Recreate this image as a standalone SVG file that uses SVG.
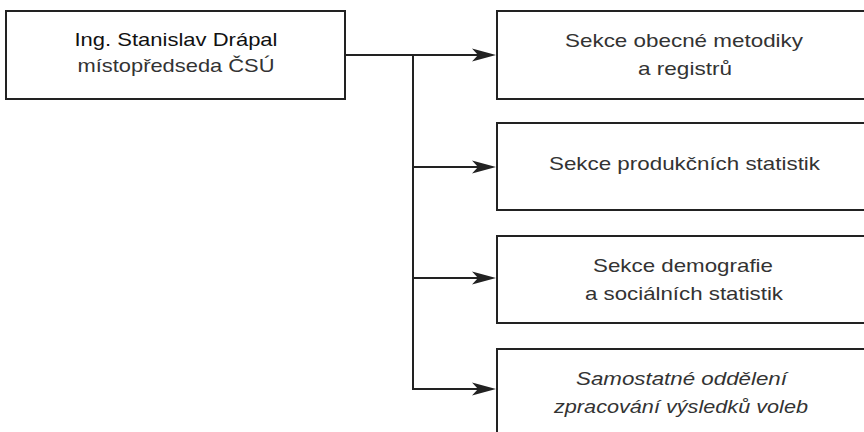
<svg xmlns="http://www.w3.org/2000/svg" width="864" height="432" viewBox="0 0 864 432">
  <style>
    .box { fill: #ffffff; stroke: #222222; stroke-width: 2; }
    .conn { fill: none; stroke: #222222; stroke-width: 2; }
    .t { font-family: "Liberation Sans", Arial, Helvetica, sans-serif; font-size: 19px; fill: #333333; text-anchor: middle; }
    .it { font-style: italic; }
    .name { fill: #111111; }
  </style>
  <defs>
    <marker id="arrow" markerUnits="userSpaceOnUse" markerWidth="24" markerHeight="14" refX="14" refY="7" orient="auto" viewBox="0 0 24 14">
      <path d="M0,0.5 L24,7 L0,13.5 L6,7 Z" fill="#222222"/>
    </marker>
  </defs>
  <rect width="864" height="432" fill="#ffffff"/>

  <g id="connectors">
    <path class="conn" d="M345,55 H486" marker-end="url(#arrow)"/>
    <path class="conn" d="M413,55 V389 H486" marker-end="url(#arrow)"/>
    <path class="conn" d="M413,167 H486" marker-end="url(#arrow)"/>
    <path class="conn" d="M413,278 H486" marker-end="url(#arrow)"/>
  </g>

  <g id="node-drapal">
    <rect class="box" x="6" y="11" width="339" height="88"/>
    <text class="t name" x="176" y="45.5" textLength="203" lengthAdjust="spacingAndGlyphs">Ing. Stanislav Drápal</text>
    <text class="t" x="176" y="71.5" fill="#444444" textLength="197" lengthAdjust="spacingAndGlyphs">místopředseda ČSÚ</text>
  </g>

  <g id="node-metodika">
    <rect class="box" x="497" y="11" width="380" height="88"/>
    <text class="t" x="684" y="47" textLength="238" lengthAdjust="spacingAndGlyphs">Sekce obecné metodiky</text>
    <text class="t" x="685" y="75" textLength="94" lengthAdjust="spacingAndGlyphs">a registrů</text>
  </g>

  <g id="node-produkce">
    <rect class="box" x="497" y="123" width="380" height="87"/>
    <text class="t" x="684.5" y="169.5" textLength="271" lengthAdjust="spacingAndGlyphs">Sekce produkčních statistik</text>
  </g>

  <g id="node-demografie">
    <rect class="box" x="497" y="236" width="380" height="87"/>
    <text class="t" x="683" y="271.5" textLength="180" lengthAdjust="spacingAndGlyphs">Sekce demografie</text>
    <text class="t" x="684" y="300" textLength="198" lengthAdjust="spacingAndGlyphs">a sociálních statistik</text>
  </g>

  <g id="node-volby">
    <rect class="box" x="497" y="349" width="380" height="100"/>
    <text class="t it" x="681.5" y="385" textLength="211" lengthAdjust="spacingAndGlyphs">Samostatné oddělení</text>
    <text class="t it" x="681" y="413" textLength="254" lengthAdjust="spacingAndGlyphs">zpracování výsledků voleb</text>
  </g>
</svg>
